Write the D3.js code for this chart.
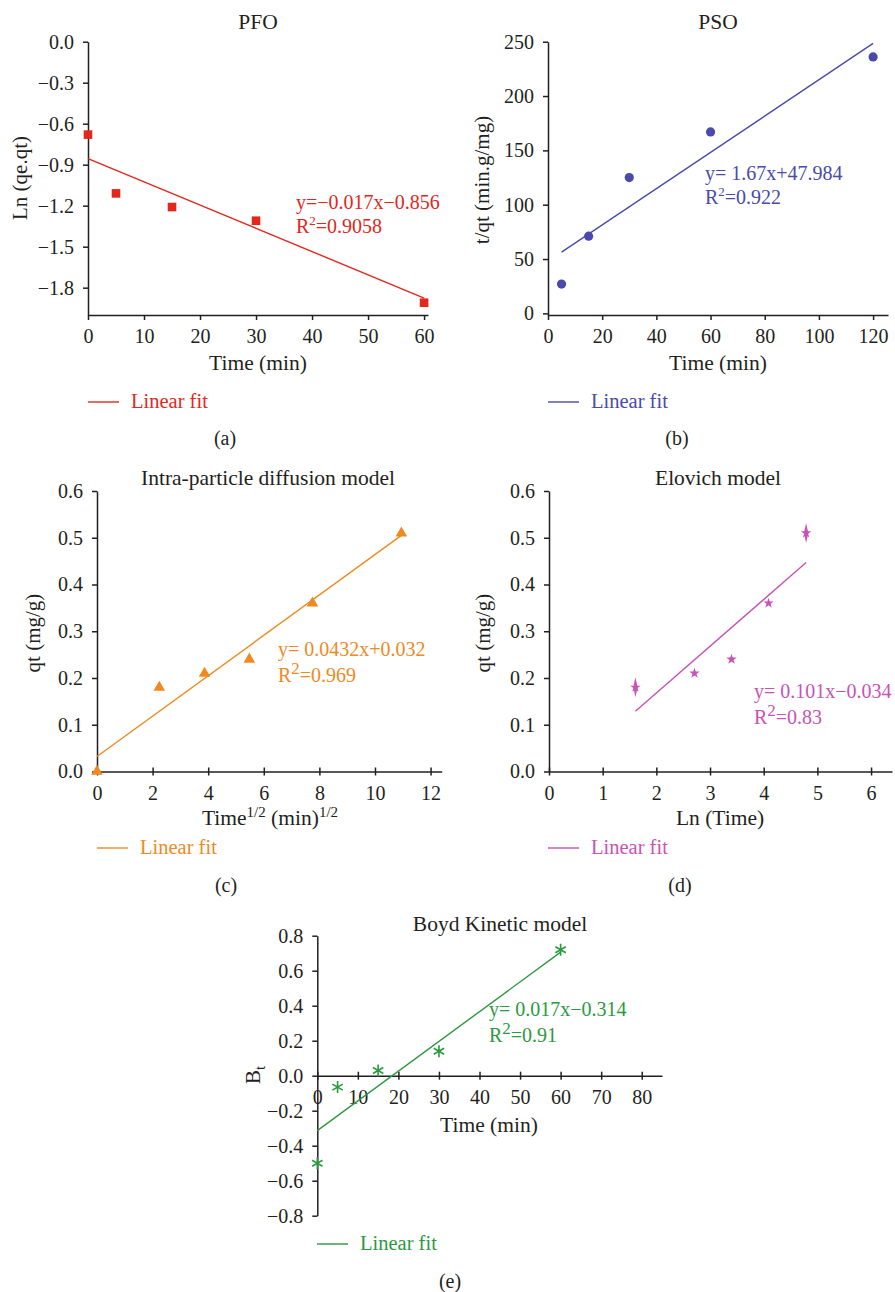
<!DOCTYPE html>
<html>
<head>
<meta charset="utf-8">
<script src="https://cdn.jsdelivr.net/npm/d3@7"></script>
<style>
  body { margin: 0; background: #fff; }
  svg text { font-family: "Liberation Serif", "Times New Roman", serif; }
</style>
</head>
<body>
<svg id="chart" width="895" height="1292"></svg>
<script>
// Data
const pfoX = [0, 5, 15, 30, 60];
const pfoY = [-0.68, -1.11, -1.21, -1.31, -1.91];
const pfoFitX = [0, 60];
const pfoFitY = [-0.856, -1.876];

const psoX = [5, 15, 30, 60, 120];
const psoY = [27, 71, 125, 167, 236];
const psoFitX = [5, 120];
const psoFitY = [56.3, 248.4];

const ipdX = [0, 2.24, 3.87, 5.48, 7.75, 10.95];
const ipdY = [0.0, 0.18, 0.21, 0.24, 0.36, 0.51];
const ipdFitX = [0, 10.95];
const ipdFitY = [0.032, 0.505];

const eloX = [1.61, 2.71, 3.40, 4.09, 4.79];
const eloY = [0.18, 0.21, 0.24, 0.36, 0.51];
const eloSpike = [true, false, false, false, true];
const eloFitX = [1.61, 4.79];
const eloFitY = [0.129, 0.447];

const boydX = [0, 5, 15, 30, 60];
const boydY = [-0.50, -0.065, 0.03, 0.14, 0.72];
const boydFitX = [0, 60];
const boydFitY = [-0.314, 0.706];

// Tick values
const pfoXTicks = [0, 10, 20, 30, 40, 50, 60];
const pfoYTicks = [0, -0.3, -0.6, -0.9, -1.2, -1.5, -1.8];
const psoXTicks = [0, 20, 40, 60, 80, 100, 120];
const psoYTicks = [0, 50, 100, 150, 200, 250];
const ipdXTicks = [0, 2, 4, 6, 8, 10, 12];
const qtYTicks = [0, 0.1, 0.2, 0.3, 0.4, 0.5, 0.6];
const eloXTicks = [0, 1, 2, 3, 4, 5, 6];
const boydXTicks = [0, 10, 20, 30, 40, 50, 60, 70, 80];
const boydYTicks = [-0.8, -0.6, -0.4, -0.2, 0, 0.2, 0.4, 0.6, 0.8];

const svg = d3.select("#chart");
const axisColor = "#231f20";

function asteriskPath(r) {
  const p = d3.path();
  const t = r / 2, u = t * Math.sqrt(3);
  p.moveTo(0, r); p.lineTo(0, -r);
  p.moveTo(-u, -t); p.lineTo(u, t);
  p.moveTo(-u, t); p.lineTo(u, -t);
  return p.toString();
}

function drawPanel(cfg) {
  const x = d3.scaleLinear().domain(cfg.xDomain).range(cfg.xRange);
  const y = d3.scaleLinear().domain(cfg.yDomain).range(cfg.yRange);
  const g = svg.append("g");
  const xAxisY = cfg.xAxisAt !== undefined ? y(cfg.xAxisAt) : cfg.yRange[0];

  // x axis
  const xa = g.append("g")
    .attr("transform", `translate(0,${xAxisY})`)
    .call(d3.axisBottom(x).tickValues(cfg.xTicks).tickFormat(d3.format("d"))
      .tickSize(cfg.crossTicks ? 4 : 5).tickSizeOuter(0)
      .tickPadding(cfg.crossTicks ? 10 : 9));
  if (cfg.crossTicks) xa.selectAll(".tick line").attr("y1", -4);

  // y axis
  const ya = g.append("g")
    .attr("transform", `translate(${cfg.xRange[0]},0)`)
    .call(d3.axisLeft(y).tickValues(cfg.yTicks).tickFormat(d3.format(cfg.yFormat))
      .tickSize(5).tickSizeOuter(0).tickPadding(9));

  [xa, ya].forEach(a => {
    a.select(".domain").attr("stroke", axisColor).attr("stroke-width", 1.5);
    a.selectAll(".tick line").attr("stroke", axisColor).attr("stroke-width", 1.5);
    a.selectAll(".tick text").attr("fill", axisColor)
      .style("font-size", "20px").style("font-family", "Liberation Serif, serif");
  });

  // title
  g.append("text").attr("x", cfg.titleX).attr("y", cfg.titleY)
    .attr("text-anchor", "middle").attr("fill", axisColor)
    .style("font-size", "21.5px").text(cfg.title);

  // x label
  const xl = g.append("text").attr("x", cfg.xLabelX).attr("y", cfg.xLabelY)
    .attr("text-anchor", "middle").attr("fill", axisColor).style("font-size", "21.5px");
  cfg.xLabel.forEach(part => {
    const t = xl.append("tspan").text(part.t);
    if (part.sup) t.attr("dy", -8).style("font-size", "15px");
    else if (part.back) t.attr("dy", 8);
  });

  // y label
  const yl = g.append("text")
    .attr("transform", `translate(${cfg.yLabelX},${cfg.yLabelY}) rotate(-90)`)
    .attr("text-anchor", "middle").attr("dy", "0.35em")
    .attr("fill", axisColor).style("font-size", "21px");
  cfg.yLabel.forEach(part => {
    const t = yl.append("tspan").text(part.t);
    if (part.sub) t.attr("dy", 5).style("font-size", "15px");
  });

  // fit line
  const fit = cfg.fitX.map((v, i) => [v, cfg.fitY[i]]);
  g.append("path").datum(fit)
    .attr("d", d3.line().x(d => x(d[0])).y(d => y(d[1])))
    .attr("fill", "none").attr("stroke", cfg.color).attr("stroke-width", 1.4);

  // markers
  const pts = cfg.xs.map((v, i) => ({ x: v, y: cfg.ys[i], i }));
  const m = g.append("g").selectAll("g").data(pts).join("g")
    .attr("transform", d => `translate(${x(d.x)},${y(d.y)})`);
  if (cfg.marker === "square") {
    m.append("rect").attr("x", -4.3).attr("y", -4.3).attr("width", 8.6).attr("height", 8.6)
      .attr("fill", cfg.color);
  } else if (cfg.marker === "circle") {
    m.append("circle").attr("r", 4.6).attr("fill", cfg.color);
  } else if (cfg.marker === "triangle") {
    m.append("path").attr("d", d3.symbol(d3.symbolTriangle, 58)()).attr("fill", cfg.color);
  } else if (cfg.marker === "star") {
    m.filter(d => cfg.spike && cfg.spike[d.i]).append("path")
      .attr("d", "M0,-10L2.2,0L0,10L-2.2,0Z").attr("fill", cfg.color);
    m.append("path").attr("d", d3.symbol(d3.symbolStar, 34)()).attr("fill", cfg.color);
  } else if (cfg.marker === "asterisk") {
    m.append("path").attr("d", asteriskPath(6)).attr("fill", "none")
      .attr("stroke", cfg.color).attr("stroke-width", 1.6);
  }

  // equation
  const eq = g.append("g").attr("fill", cfg.color).style("font-size", "20px");
  eq.append("text").attr("x", cfg.eqX).attr("y", cfg.eqY).text(cfg.eq);
  const r2 = eq.append("text").attr("x", cfg.eqX).attr("y", cfg.eqY + cfg.eqGap);
  r2.append("tspan").text("R");
  r2.append("tspan").attr("dy", -8).style("font-size", cfg.supSize).text("2");
  r2.append("tspan").attr("dy", 8).text(cfg.r2);

  // legend
  g.append("line").attr("x1", cfg.legX).attr("x2", cfg.legX + 31)
    .attr("y1", cfg.legY).attr("y2", cfg.legY)
    .attr("stroke", cfg.color).attr("stroke-width", 1.4);
  g.append("text").attr("x", cfg.legX + 43).attr("y", cfg.legY + 6)
    .attr("fill", cfg.color).style("font-size", "20.5px").text("Linear fit");

  // panel tag
  g.append("text").attr("x", cfg.tagX).attr("y", cfg.tagY)
    .attr("text-anchor", "middle").attr("fill", axisColor)
    .style("font-size", "20px").text(cfg.tag);
}

drawPanel({
  xs: pfoX, ys: pfoY, fitX: pfoFitX, fitY: pfoFitY,
  xDomain: [0, 60.7], xRange: [88, 428], yDomain: [-2, 0], yRange: [315, 41.7],
  xTicks: pfoXTicks, yTicks: pfoYTicks, yFormat: ".1f",
  color: "#e2271d", marker: "square",
  title: "PFO", titleX: 258, titleY: 29,
  xLabel: [{ t: "Time (min)" }], xLabelX: 258, xLabelY: 370,
  yLabel: [{ t: "Ln (qe.qt)" }], yLabelX: 20, yLabelY: 178,
  eq: "y=\u22120.017x\u22120.856", r2: "=0.9058", eqX: 296, eqY: 209, eqGap: 24, supSize: "13px",
  legX: 88, legY: 402, tag: "(a)", tagX: 225, tagY: 445
});

drawPanel({
  xs: psoX, ys: psoY, fitX: psoFitX, fitY: psoFitY,
  xDomain: [0, 125.5], xRange: [548, 888], yDomain: [-1.5, 250], yRange: [315, 41.7],
  xTicks: psoXTicks, yTicks: psoYTicks, yFormat: "d",
  color: "#4a4aac", marker: "circle",
  title: "PSO", titleX: 718, titleY: 29,
  xLabel: [{ t: "Time (min)" }], xLabelX: 718, xLabelY: 370,
  yLabel: [{ t: "t/qt (min.g/mg)" }], yLabelX: 482, yLabelY: 180,
  eq: "y= 1.67x+47.984", r2: "=0.922", eqX: 705, eqY: 180, eqGap: 24, supSize: "13px",
  legX: 548, legY: 402, tag: "(b)", tagX: 677, tagY: 445
});

drawPanel({
  xs: ipdX, ys: ipdY, fitX: ipdFitX, fitY: ipdFitY,
  xDomain: [0, 12.4], xRange: [97, 441.7], yDomain: [0, 0.6], yRange: [771.5, 491],
  xTicks: ipdXTicks, yTicks: qtYTicks, yFormat: ".1f", crossTicks: true,
  color: "#f0891f", marker: "triangle",
  title: "Intra-particle diffusion model", titleX: 268, titleY: 485,
  xLabel: [{ t: "Time" }, { t: "1/2", sup: true }, { t: " (min)", back: true }, { t: "1/2", sup: true }],
  xLabelX: 270, xLabelY: 825,
  yLabel: [{ t: "qt (mg/g)" }], yLabelX: 33, yLabelY: 633,
  eq: "y= 0.0432x+0.032", r2: "=0.969", eqX: 278, eqY: 656, eqGap: 26, supSize: "17px",
  legX: 97, legY: 848, tag: "(c)", tagX: 226, tagY: 892
});

drawPanel({
  xs: eloX, ys: eloY, spike: eloSpike, fitX: eloFitX, fitY: eloFitY,
  xDomain: [0, 6.39], xRange: [549, 892], yDomain: [0, 0.6], yRange: [771.5, 491],
  xTicks: eloXTicks, yTicks: qtYTicks, yFormat: ".1f", crossTicks: true,
  color: "#cb52b5", marker: "star",
  title: "Elovich model", titleX: 718, titleY: 485,
  xLabel: [{ t: "Ln (Time)" }], xLabelX: 720, xLabelY: 825,
  yLabel: [{ t: "qt (mg/g)" }], yLabelX: 483, yLabelY: 633,
  eq: "y= 0.101x\u22120.034", r2: "=0.83", eqX: 754, eqY: 698, eqGap: 26, supSize: "17px",
  legX: 548, legY: 848, tag: "(d)", tagX: 680, tagY: 892
});

drawPanel({
  xs: boydX, ys: boydY, fitX: boydFitX, fitY: boydFitY,
  xDomain: [0, 85], xRange: [317.3, 662], yDomain: [-0.8, 0.8], yRange: [1215.7, 935.7],
  xAxisAt: 0, xTicks: boydXTicks, yTicks: boydYTicks, yFormat: ".1f", crossTicks: true,
  color: "#2a9a3e", marker: "asterisk",
  title: "Boyd Kinetic model", titleX: 500, titleY: 931,
  xLabel: [{ t: "Time (min)" }], xLabelX: 489, xLabelY: 1132,
  yLabel: [{ t: "B" }, { t: "t", sub: true }], yLabelX: 253, yLabelY: 1075,
  eq: "y= 0.017x\u22120.314", r2: "=0.91", eqX: 489, eqY: 1016, eqGap: 26, supSize: "17px",
  legX: 317, legY: 1244, tag: "(e)", tagX: 450, tagY: 1288
});
</script>
</body>
</html>
